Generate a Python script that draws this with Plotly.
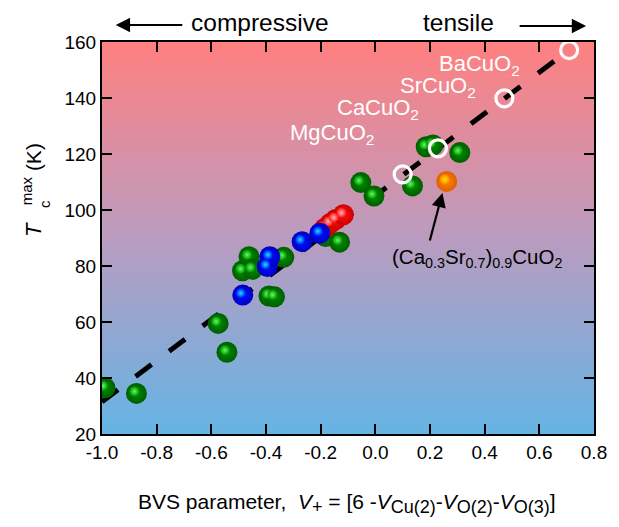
import numpy as np
import plotly.graph_objects as go

FONT = "Arial, Liberation Sans, sans-serif"

# ---- data ----
green_x = [-0.989, -0.874, -0.575, -0.543, -0.486, -0.462, -0.450, -0.389, -0.369,
           -0.335, -0.182, -0.131, -0.053, -0.005, 0.136, 0.186, 0.211, 0.309]
green_y = [36.5, 34.5, 59.5, 49.2, 78.3, 83.3, 78.8, 69.3, 69.0,
           83.1, 90.5, 88.5, 109.8, 105.0, 108.6, 122.6, 123.2, 120.5]
red_x = [-0.185, -0.165, -0.145, -0.117]
red_y = [93.5, 95.2, 96.6, 98.3]
blue_x = [-0.485, -0.395, -0.386, -0.268, -0.203]
blue_y = [69.6, 79.8, 83.3, 88.7, 91.7]
orange_x = [0.261]
orange_y = [110.2]
infinite_x = [0.100, 0.229, 0.472, 0.709]
infinite_y = [112.7, 122.0, 139.9, 157.1]
infinite_names = ["MgCuO<sub>2</sub>", "CaCuO<sub>2</sub>", "SrCuO<sub>2</sub>", "BaCuO<sub>2</sub>"]
label_x = [-0.318, -0.149, 0.082, 0.226]
label_y = [127.1, 136.1, 143.9, 151.8]
fit_x = [-1.0, 0.66]
fit_y = [31.5, 153.6]
x_ticks = [-1.0, -0.8, -0.6, -0.4, -0.2, 0.0, 0.2, 0.4, 0.6, 0.8]
x_tick_text = ["-1.0", "-0.8", "-0.6", "-0.4", "-0.2", "0.0", "0.2", "0.4", "0.6", "0.8"]
y_ticks = [20, 40, 60, 80, 100, 120, 140, 160]

fig = go.Figure()

# gradient background
bg_y = np.linspace(20, 160, 141)
fig.add_trace(go.Heatmap(
    x=[-1.0, 0.8], y=bg_y, z=[[v, v] for v in bg_y], zmin=20, zmax=160,
    colorscale=[[0, "rgb(100,180,228)"], [0.5, "rgb(186,156,192)"], [1, "rgb(255,128,128)"]],
    showscale=False, hoverinfo="skip", zsmooth="best"))

# dashed linear fit
fig.add_trace(go.Scatter(x=fit_x, y=fit_y, mode="lines",
                         line=dict(color="black", width=5, dash="20px,22px"),
                         hoverinfo="skip", showlegend=False))

DX = -2.0 / 277.8
DY = 2.0 / 2.8


def add_balls(xs, ys, edge, mid, hi):
    fig.add_trace(go.Scatter(
        x=xs, y=ys, mode="markers", showlegend=False,
        marker=dict(size=21, color=edge, line=dict(width=0),
                    gradient=dict(type="radial", color=mid))))
    fig.add_trace(go.Scatter(
        x=[v + DX for v in xs], y=[v + DY for v in ys], mode="markers",
        showlegend=False, hoverinfo="skip",
        marker=dict(size=10, color=mid, line=dict(width=0),
                    gradient=dict(type="radial", color=hi))))


add_balls(green_x, green_y, "#005e00", "#008e00", "#5cff5c")
add_balls(red_x, red_y, "#cc0000", "#ff1010", "#ffb8b8")
add_balls(blue_x, blue_y, "#0000c0", "#0010ff", "#10e8ff")
add_balls(orange_x, orange_y, "#e06000", "#ff8400", "#ffe800")

fig.add_trace(go.Scatter(
    x=infinite_x, y=infinite_y, mode="markers", showlegend=False, cliponaxis=False,
    marker=dict(size=17, color="rgba(0,0,0,0)", line=dict(color="white", width=3.2))))

ann = []
for nm, lx, ly in zip(infinite_names, label_x, label_y):
    ann.append(dict(x=lx, y=ly, xref="x", yref="y", text=nm, showarrow=False,
                    xanchor="left", yanchor="middle",
                    font=dict(family=FONT, size=22, color="white")))

# (Ca0.3Sr0.7)0.9CuO2 label and arrow
ann.append(dict(x=0.372, y=83.0, xref="x", yref="y",
                text="(Ca<sub>0.3</sub>Sr<sub>0.7</sub>)<sub>0.9</sub>CuO<sub>2</sub>",
                showarrow=False, xanchor="center", yanchor="middle",
                font=dict(family=FONT, size=20.5, color="black")))
ann.append(dict(x=0.2455, y=106.1, xref="x", yref="y", ax=-13, ay=49,
                axref="pixel", ayref="pixel", text="", showarrow=True,
                arrowhead=2, arrowsize=1.3, arrowwidth=2.2, arrowcolor="black"))

# top labels + arrows
ann.append(dict(x=(263 - 102) / 500, y=(434 - 22) / 392, xref="paper", yref="paper",
                text="compressive", showarrow=False, xanchor="center", yanchor="middle",
                font=dict(family=FONT, size=24.5, color="black")))
ann.append(dict(x=(464 - 102) / 500, y=(434 - 22) / 392, xref="paper", yref="paper",
                text="tensile", showarrow=False, xanchor="center", yanchor="middle",
                font=dict(family=FONT, size=24.5, color="black")))
ann.append(dict(x=(116 - 102) / 500, y=(434 - 25) / 392, xref="paper", yref="paper",
                ax=68, ay=0, text="", showarrow=True, arrowhead=2, arrowsize=1.3,
                arrowwidth=2.2, arrowcolor="black"))
ann.append(dict(x=(594 - 102) / 500, y=(434 - 26) / 392, xref="paper", yref="paper",
                ax=-68, ay=0, text="", showarrow=True, arrowhead=2, arrowsize=1.3,
                arrowwidth=2.2, arrowcolor="black"))

# y-axis title pieces (rotated)
ann.append(dict(x=(32 - 102) / 500, y=(434 - 230) / 392, xref="paper", yref="paper",
                text="<i>T</i>", textangle=-90, showarrow=False,
                xanchor="center", yanchor="middle",
                font=dict(family=FONT, size=22, color="black")))
ann.append(dict(x=(44 - 102) / 500, y=(434 - 204) / 392, xref="paper", yref="paper",
                text="c", textangle=-90, showarrow=False,
                xanchor="center", yanchor="middle",
                font=dict(family=FONT, size=15, color="black")))
ann.append(dict(x=(26 - 102) / 500, y=(434 - 191) / 392, xref="paper", yref="paper",
                text="max", textangle=-90, showarrow=False,
                xanchor="center", yanchor="middle",
                font=dict(family=FONT, size=15, color="black")))
ann.append(dict(x=(32 - 102) / 500, y=(434 - 157) / 392, xref="paper", yref="paper",
                text="(K)", textangle=-90, showarrow=False,
                xanchor="center", yanchor="middle",
                font=dict(family=FONT, size=21, color="black")))

# x-axis title
SUB = '<sub><span style="font-size:18px">{}</span></sub>'
x_title = ("BVS parameter,&nbsp;&nbsp;<i>V</i>" + SUB.format("+") +
           "&nbsp;=&nbsp;[6&nbsp;-<i>V</i>" + SUB.format("Cu(2)") +
           "-<i>V</i>" + SUB.format("O(2)") +
           "-<i>V</i>" + SUB.format("O(3)") + "]")
ann.append(dict(x=(351 - 102) / 500, y=(434 - 503) / 392, xref="paper", yref="paper",
                text=x_title, showarrow=False, xanchor="center", yanchor="middle",
                font=dict(family=FONT, size=21, color="black")))

axis_common = dict(ticks="inside", ticklen=10, tickwidth=2, tickcolor="black",
                   showline=True, linewidth=2, linecolor="black", mirror="ticks",
                   showgrid=False, zeroline=False,
                   tickfont=dict(family=FONT, size=19, color="black"))

fig.update_layout(
    width=619, height=527, margin=dict(l=102, r=17, t=42, b=93),
    paper_bgcolor="white", plot_bgcolor="white", showlegend=False,
    annotations=ann,
    xaxis=dict(range=[-1.0, 0.8], tickvals=x_ticks, ticktext=x_tick_text, **axis_common),
    yaxis=dict(range=[20, 160], tickvals=y_ticks, **axis_common),
)

fig.write_html("out.html")
